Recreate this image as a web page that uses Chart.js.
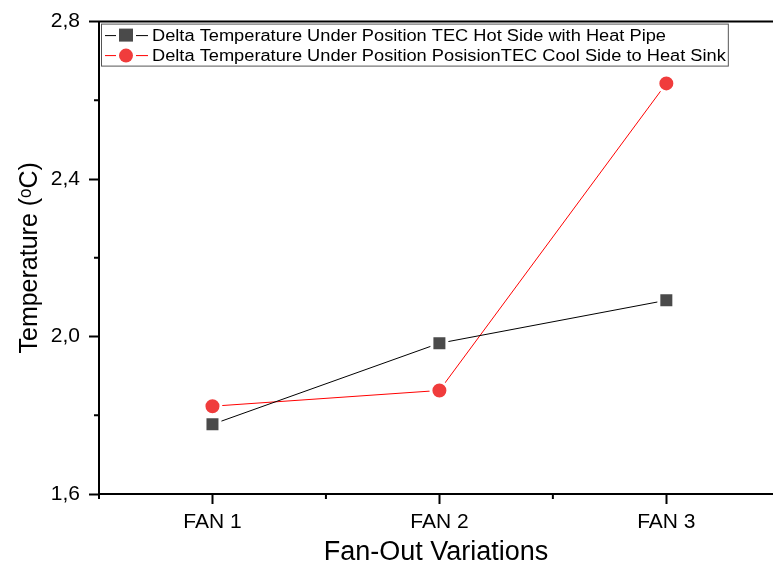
<!DOCTYPE html>
<html>
<head>
<meta charset="utf-8">
<script src="https://cdn.jsdelivr.net/npm/chart.js@4.4.1/dist/chart.umd.min.js"></script>
<style>
  html, body { margin: 0; padding: 0; background: #fff; overflow: hidden; }
  #wrap { width: 773px; height: 569px; }
</style>
</head>
<body>
<div id="wrap"><canvas id="chart" width="773" height="569"></canvas></div>
<script>
// data
const categories = ['FAN 1', 'FAN 2', 'FAN 3'];
const hotSide = [1.777, 1.983, 2.092];
const coolSide = [1.823, 1.863, 2.643];
const seriesNames = [
  'Delta Temperature Under Position TEC Hot Side with Heat Pipe',
  'Delta Temperature Under Position PosisionTEC Cool Side to Heat Sink'
];
const yMajorTicks = [1.6, 2.0, 2.4, 2.8];
const yMinorTicks = [1.8, 2.2, 2.6];
const xMinorTicks = [0.5, 1.5, 2.5, 3.5];

const FONT = "'Liberation Sans', Arial, sans-serif";
const BLACK_MARK = '#4a4a4a';
const RED_MARK = '#f03c3c';

const toPoints = arr => arr.map((v, i) => ({ x: i + 1, y: v }));

// frame, minor ticks and the boxed legend
const extras = {
  id: 'extras',
  afterDraw(chart) {
    const ctx = chart.ctx;
    const { left, right, top, bottom } = chart.chartArea;
    const xs = chart.scales.x, ys = chart.scales.y;
    ctx.save();
    ctx.strokeStyle = '#000';
    ctx.lineWidth = 2;
    ctx.beginPath();
    ctx.moveTo(left - 1, top);
    ctx.lineTo(right, top);
    ctx.stroke();

    ctx.beginPath();
    yMinorTicks.forEach(v => {
      const y = ys.getPixelForValue(v);
      ctx.moveTo(left, y);
      ctx.lineTo(left - 5, y);
    });
    xMinorTicks.forEach(v => {
      const x = xs.getPixelForValue(v);
      ctx.moveTo(x, bottom);
      ctx.lineTo(x, bottom + 5);
    });
    ctx.stroke();

    // legend (text a little wider than the font, like the original export)
    const sx = 1.14;
    ctx.font = '16px ' + FONT;
    const bx = left + 2, by = top + 2;
    const textX = bx + 51;
    const maxW = Math.max(...seriesNames.map(s => ctx.measureText(s).width)) * sx;
    const bw = textX - bx + maxW + 2;
    const bh = 42;
    ctx.fillStyle = '#fff';
    ctx.fillRect(bx, by, bw, bh);
    ctx.strokeStyle = '#555';
    ctx.lineWidth = 1;
    ctx.strokeRect(bx + 0.5, by + 0.5, bw, bh);

    chart.data.datasets.forEach((ds, i) => {
      const cy = by + 12 + i * 20;
      const mx = bx + 25;
      ctx.strokeStyle = ds.borderColor;
      ctx.lineWidth = 1;
      ctx.beginPath();
      ctx.moveTo(bx + 4, cy);
      ctx.lineTo(mx - 10, cy);
      ctx.moveTo(mx + 10, cy);
      ctx.lineTo(bx + 47, cy);
      ctx.stroke();
      ctx.fillStyle = ds.pointBackgroundColor;
      if (ds.pointStyle === 'rect') {
        ctx.fillRect(mx - 7, cy - 7, 14, 13);
      } else {
        ctx.beginPath();
        ctx.arc(mx, cy, 7, 0, Math.PI * 2);
        ctx.fill();
      }
      ctx.fillStyle = '#000';
      ctx.textBaseline = 'middle';
      ctx.save();
      ctx.translate(textX, cy + 1);
      ctx.scale(sx, 1);
      ctx.fillText(ds.label, 0, 0);
      ctx.restore();
    });
    ctx.restore();
  }
};

new Chart(document.getElementById('chart'), {
  type: 'line',
  data: {
    datasets: [
      {
        label: seriesNames[0],
        data: toPoints(hotSide),
        borderColor: '#000',
        borderWidth: 1,
        pointStyle: 'rect',
        pointRadius: 10.6,
        pointBackgroundColor: BLACK_MARK,
        pointBorderColor: '#fff',
        pointBorderWidth: 3,
        tension: 0
      },
      {
        label: seriesNames[1],
        data: toPoints(coolSide),
        borderColor: '#ff0000',
        borderWidth: 1,
        pointStyle: 'circle',
        pointRadius: 8.5,
        pointBackgroundColor: RED_MARK,
        pointBorderColor: '#fff',
        pointBorderWidth: 3,
        tension: 0
      }
    ]
  },
  options: {
    responsive: false,
    animation: false,
    layout: { autoPadding: false, padding: { top: 18, right: 0, left: 0, bottom: 0 } },
    plugins: { legend: { display: false }, tooltip: { enabled: false } },
    scales: {
      x: {
        type: 'linear',
        min: 0.5,
        max: 3.47,
        afterBuildTicks: s => { s.ticks = categories.map((c, i) => ({ value: i + 1 })); },
        afterFit: s => { s.height = 75; },
        ticks: {
          callback: v => categories[v - 1],
          color: '#000',
          font: { family: FONT, size: 21 },
          padding: 6,
          maxRotation: 0
        },
        grid: { drawOnChartArea: false, drawTicks: true, tickLength: 10, tickColor: '#000', tickWidth: 2 },
        border: { color: '#000', width: 2 },
        title: {
          display: true,
          text: 'Fan-Out Variations',
          color: '#000',
          font: { family: FONT, size: 27 },
          padding: { top: 0, bottom: 0 }
        }
      },
      y: {
        min: 1.6,
        max: 2.8,
        afterBuildTicks: s => { s.ticks = yMajorTicks.map(v => ({ value: v })); },
        afterFit: s => { s.width = 99; },
        ticks: {
          callback: v => v.toFixed(1).replace('.', ','),
          color: '#000',
          font: { family: FONT, size: 21 },
          padding: 9
        },
        grid: { drawOnChartArea: false, drawTicks: true, tickLength: 10, tickColor: '#000', tickWidth: 2 },
        border: { color: '#000', width: 2 },
        title: {
          display: true,
          text: 'Temperature (\u1D52C)',
          color: '#000',
          font: { family: FONT, size: 25 },
          padding: { top: 15, bottom: 0 }
        }
      }
    }
  },
  plugins: [extras]
});
</script>
</body>
</html>
